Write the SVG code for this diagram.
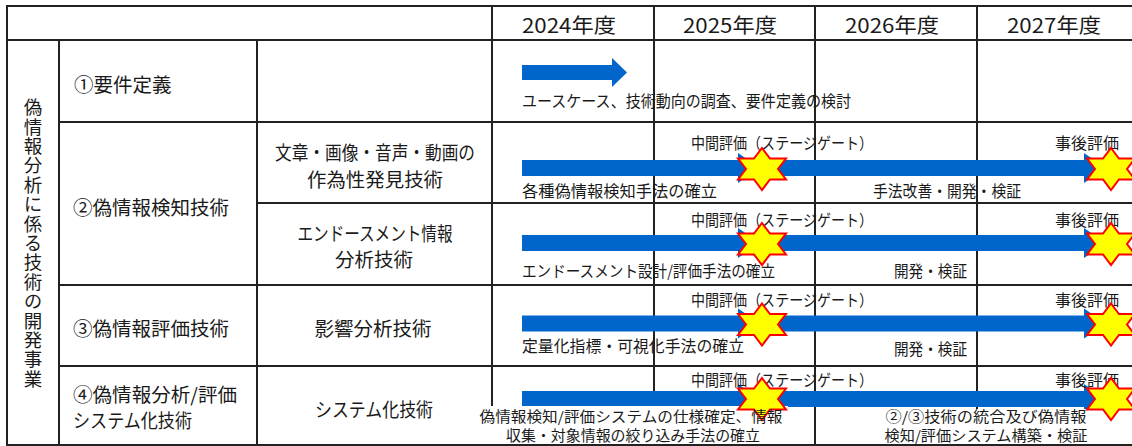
<svg xmlns="http://www.w3.org/2000/svg" xmlns:xlink="http://www.w3.org/1999/xlink" width="1132" height="446" viewBox="0 0 1132 446">
  <defs>
    <style>
      .grid line { stroke: #222; stroke-width: 2; }
      text { font-family: 'Noto Sans CJK JP', 'Noto Sans', sans-serif; fill: #1a1a1a; dominant-baseline: central; }
      .hdr { font-size: 20px; text-anchor: middle; }
      .c2 { font-size: 19.5px; }
      .c2s { font-size: 19px; }
      .c3 { font-size: 19.5px; text-anchor: middle; }
      .c3s { font-size: 19px; text-anchor: middle; }
      .vt { font-size: 18.5px; writing-mode: vertical-rl; letter-spacing: 0.9px; }
      .lb { font-size: 16px; }
      .lbm { font-size: 14.5px; text-anchor: middle; }
      .arrow { fill: #0066CC; }
      .star { fill: #FFFF00; stroke: #FF0000; stroke-width: 2; stroke-linejoin: miter; }
    </style>
    <path id="star" class="star" d="M0,-21 L8,-10.5 L24,-10.5 L16,0 L24,10.5 L8,10.5 L0,21 L-8,10.5 L-24,10.5 L-16,0 L-24,-10.5 L-8,-10.5 Z"/>
  </defs>
  <rect x="0" y="0" width="1132" height="446" fill="#fff"/>

  <g id="grid" class="grid">
    <line x1="7" y1="6" x2="1132" y2="6"/>
    <line x1="7" y1="40" x2="1132" y2="40"/>
    <line x1="59" y1="122" x2="1132" y2="122"/>
    <line x1="257" y1="203" x2="1132" y2="203"/>
    <line x1="59" y1="285" x2="1132" y2="285"/>
    <line x1="59" y1="366" x2="1132" y2="366"/>
    <line x1="7" y1="445" x2="1132" y2="445"/>
    <line x1="7" y1="5" x2="7" y2="446"/>
    <line x1="59" y1="40" x2="59" y2="446"/>
    <line x1="257" y1="40" x2="257" y2="446"/>
    <line x1="492" y1="5" x2="492" y2="446"/>
    <line x1="654" y1="5" x2="654" y2="446"/>
    <line x1="815" y1="5" x2="815" y2="446"/>
    <line x1="977" y1="5" x2="977" y2="446"/>
  </g>

  <g id="header">
    <text class="hdr" x="569" y="24" textLength="94" lengthAdjust="spacingAndGlyphs">2024年度</text>
    <text class="hdr" x="730" y="24" textLength="94" lengthAdjust="spacingAndGlyphs">2025年度</text>
    <text class="hdr" x="892" y="24" textLength="94" lengthAdjust="spacingAndGlyphs">2026年度</text>
    <text class="hdr" x="1054" y="24" textLength="94" lengthAdjust="spacingAndGlyphs">2027年度</text>
  </g>

  <g id="side-label">
    <text class="vt" x="33" y="98">偽情報分析に係る技術の開発事業</text>
  </g>

  <g id="item1">
    <text class="c2" x="74" y="83">①要件定義</text>
  </g>
  <g id="item2">
    <text class="c2" x="73" y="206">②偽情報検知技術</text>
    <text class="c3s" x="375" y="151" textLength="200" lengthAdjust="spacingAndGlyphs">文章・画像・音声・動画の</text>
    <text class="c3s" x="375" y="178" textLength="136" lengthAdjust="spacingAndGlyphs">作為性発見技術</text>
    <text class="c3s" x="375" y="232" textLength="155" lengthAdjust="spacingAndGlyphs">エンドースメント情報</text>
    <text class="c3s" x="374" y="258" textLength="78" lengthAdjust="spacingAndGlyphs">分析技術</text>
  </g>
  <g id="item3">
    <text class="c2" x="73" y="327">③偽情報評価技術</text>
    <text class="c3" x="373" y="327">影響分析技術</text>
  </g>
  <g id="item4">
    <text class="c2s" x="73" y="393" textLength="164" lengthAdjust="spacingAndGlyphs">④偽情報分析/評価</text>
    <text class="c2s" x="73" y="419" textLength="119" lengthAdjust="spacingAndGlyphs">システム化技術</text>
    <text class="c3" x="374" y="408" textLength="118" lengthAdjust="spacingAndGlyphs">システム化技術</text>
  </g>

  <g id="connectors">
    <path class="arrow" d="M522,65 H612 V58 L627,72.5 L612,87 V80 H522 Z"/>
    <path class="arrow" d="M522,160 H738 V153 L760,168 L738,183 V176 H522 Z"/>
    <path class="arrow" d="M760,160 H1084 V153 L1106,168 L1084,183 V176 H760 Z"/>
    <path class="arrow" d="M522,235 H738 V228 L760,243 L738,258 V251 H522 Z"/>
    <path class="arrow" d="M760,235 H1084 V228 L1106,243 L1084,258 V251 H760 Z"/>
    <path class="arrow" d="M522,315.5 H738 V308.5 L760,323.5 L738,338.5 V331.5 H522 Z"/>
    <path class="arrow" d="M760,315.5 H1084 V308.5 L1106,323.5 L1084,338.5 V331.5 H760 Z"/>
    <path class="arrow" d="M522,391 H738 V384 L760,399 L738,414 V407 H522 Z"/>
    <path class="arrow" d="M760,391 H1084 V384 L1106,399 L1084,414 V407 H760 Z"/>
  </g>

  <g id="timeline-labels">
    <text class="lb" x="522" y="100" textLength="329" lengthAdjust="spacingAndGlyphs">ユースケース、技術動向の調査、要件定義の検討</text>

    <text class="lb" x="691" y="142" textLength="182" lengthAdjust="spacingAndGlyphs">中間評価（ステージゲート）</text>
    <text class="lb" x="1055" y="142">事後評価</text>
    <text class="lb" x="522" y="190" textLength="195" lengthAdjust="spacingAndGlyphs">各種偽情報検知手法の確立</text>
    <text class="lb" x="873" y="190" textLength="148" lengthAdjust="spacingAndGlyphs">手法改善・開発・検証</text>

    <text class="lb" x="691" y="218.5" textLength="182" lengthAdjust="spacingAndGlyphs">中間評価（ステージゲート）</text>
    <text class="lb" x="1055" y="218.5">事後評価</text>
    <text class="lb" x="522" y="270" textLength="253" lengthAdjust="spacingAndGlyphs">エンドースメント設計/評価手法の確立</text>
    <text class="lb" x="894" y="270" textLength="73" lengthAdjust="spacingAndGlyphs">開発・検証</text>

    <text class="lb" x="691" y="298.5" textLength="182" lengthAdjust="spacingAndGlyphs">中間評価（ステージゲート）</text>
    <text class="lb" x="1055" y="298.5">事後評価</text>
    <text class="lb" x="522" y="345" textLength="222" lengthAdjust="spacingAndGlyphs">定量化指標・可視化手法の確立</text>
    <text class="lb" x="894" y="348" textLength="73" lengthAdjust="spacingAndGlyphs">開発・検証</text>

    <text class="lb" x="691" y="378.5" textLength="182" lengthAdjust="spacingAndGlyphs">中間評価（ステージゲート）</text>
    <text class="lb" x="1055" y="378.5">事後評価</text>
    <rect x="476" y="406" width="312" height="38" fill="#fff"/>
    <rect x="882" y="409" width="208" height="35" fill="#fff"/>
  </g>

  <g id="milestones">
    <use xlink:href="#star" x="762" y="169"/>
    <use xlink:href="#star" x="1111" y="169"/>
    <use xlink:href="#star" x="762" y="244"/>
    <use xlink:href="#star" x="1111" y="244"/>
    <use xlink:href="#star" x="762" y="324.5"/>
    <use xlink:href="#star" x="1111" y="324.5"/>
    <use xlink:href="#star" x="762" y="399"/>
    <use xlink:href="#star" x="1111" y="399"/>
  </g>

  <g id="row4-notes">
    <text class="lbm" x="631" y="415" textLength="303" lengthAdjust="spacingAndGlyphs">偽情報検知/評価システムの仕様確定、情報</text>
    <text class="lbm" x="633" y="434" textLength="254" lengthAdjust="spacingAndGlyphs">収集・対象情報の絞り込み手法の確立</text>
    <text class="lbm" x="986" y="415" textLength="201" lengthAdjust="spacingAndGlyphs">②/③技術の統合及び偽情報</text>
    <text class="lbm" x="986" y="434" textLength="203" lengthAdjust="spacingAndGlyphs">検知/評価システム構築・検証</text>
  </g>
</svg>
